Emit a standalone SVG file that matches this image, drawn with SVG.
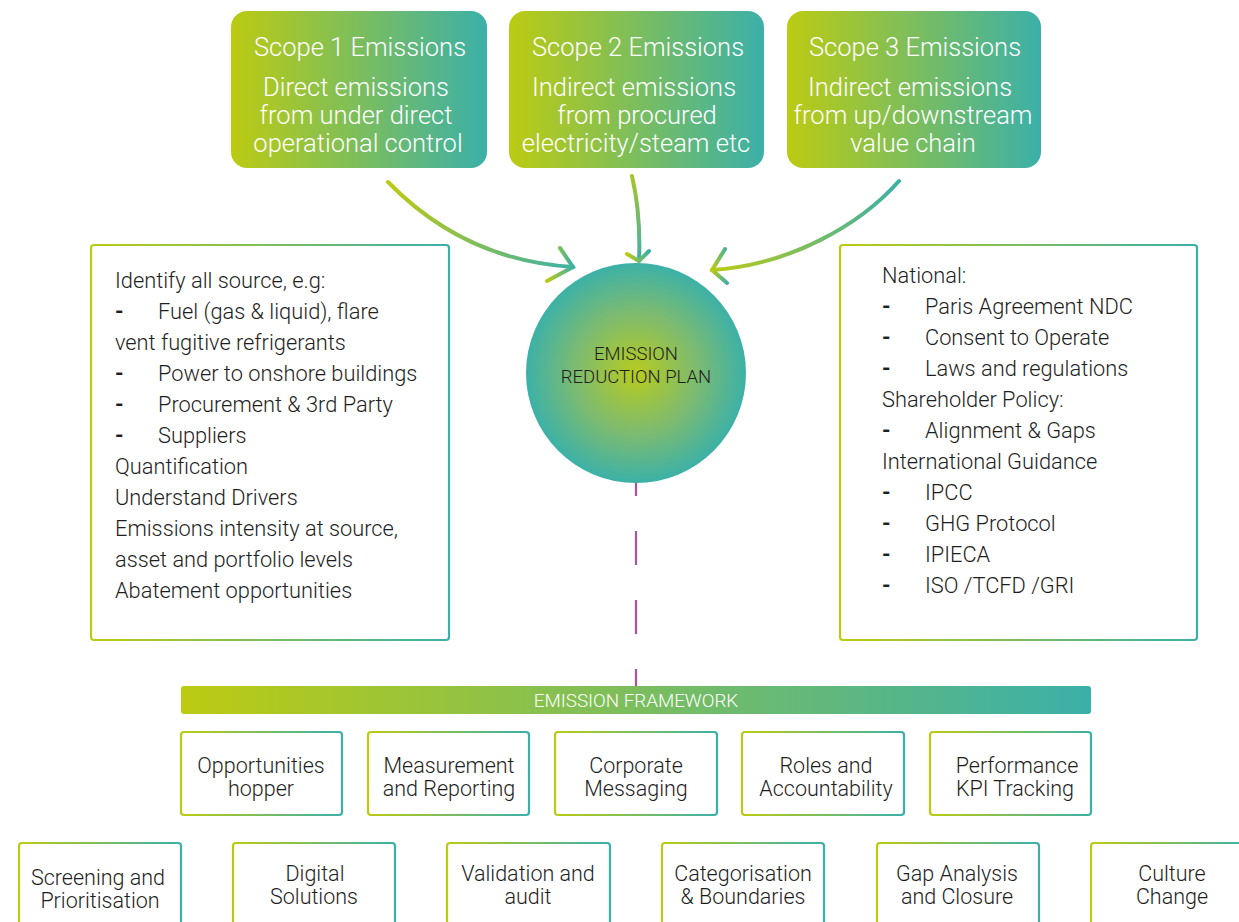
<svg xmlns="http://www.w3.org/2000/svg" width="1239" height="922" viewBox="0 0 1239 922">
  <defs>
    <linearGradient id="gH" x1="0" y1="0" x2="1" y2="0">
      <stop offset="0" stop-color="#bccb12"/>
      <stop offset="1" stop-color="#3bb0a9"/>
    </linearGradient>
    <radialGradient id="gR" cx="0.5" cy="0.5" r="0.5">
      <stop offset="0" stop-color="#b7cb1e"/>
      <stop offset="0.55" stop-color="#7dbb70"/>
      <stop offset="1" stop-color="#3cb1a7"/>
    </radialGradient>
    <linearGradient id="gA1" gradientUnits="userSpaceOnUse" x1="388" y1="0" x2="574" y2="0">
      <stop offset="0" stop-color="#bccb12"/>
      <stop offset="1" stop-color="#3bb0a9"/>
    </linearGradient>
    <linearGradient id="gA3" gradientUnits="userSpaceOnUse" x1="712" y1="0" x2="900" y2="0">
      <stop offset="0" stop-color="#bccb12"/>
      <stop offset="1" stop-color="#3bb0a9"/>
    </linearGradient>
    <linearGradient id="gA2" gradientUnits="userSpaceOnUse" x1="0" y1="176" x2="0" y2="262">
      <stop offset="0" stop-color="#a8c52a"/>
      <stop offset="1" stop-color="#3bb0a9"/>
    </linearGradient>
    <style>
      .scope { fill: url(#gH); }
      .st { font-family: Roboto, "Liberation Sans", sans-serif; font-weight: 300; fill: #ffffff; font-size: 25.5px; text-anchor: middle; }
      .box { fill: #ffffff; stroke: url(#gH); stroke-width: 2.2; }
      .tx { font-family: Roboto, "Liberation Sans", sans-serif; font-weight: 300; fill: #1e1e1e; font-size: 21.8px; }
      .bx { font-family: Roboto, "Liberation Sans", sans-serif; font-weight: 300; fill: #1e1e1e; font-size: 21.5px; text-anchor: middle; }
      .dash { font-weight: 700; }
      .arrow { fill: none; stroke-width: 4; stroke-linecap: round; stroke-linejoin: round; }
      .head { fill: none; stroke: url(#gH); stroke-width: 4; stroke-linecap: round; stroke-linejoin: miter; }
    </style>
  </defs>

  <!-- Scope boxes -->
  <g id="scope1">
    <rect class="scope" x="231" y="11" width="256" height="157" rx="16"/>
    <text class="st" x="360" y="56">Scope 1 Emissions</text>
    <text class="st" x="356" y="96">Direct emissions</text>
    <text class="st" x="356" y="124">from under direct</text>
    <text class="st" x="358" y="152">operational control</text>
  </g>
  <g id="scope2">
    <rect class="scope" x="509" y="11" width="255" height="157" rx="16"/>
    <text class="st" x="638" y="56">Scope 2 Emissions</text>
    <text class="st" x="634" y="96">Indirect emissions</text>
    <text class="st" x="637" y="124">from procured</text>
    <text class="st" x="636" y="152">electricity/steam etc</text>
  </g>
  <g id="scope3">
    <rect class="scope" x="787" y="11" width="254" height="157" rx="16"/>
    <text class="st" x="915" y="56">Scope 3 Emissions</text>
    <text class="st" x="910" y="96">Indirect emissions</text>
    <text class="st" x="913" y="124">from up/downstream</text>
    <text class="st" x="913" y="152">value chain</text>
  </g>

  <!-- Connectors -->
  <g id="connectors">
    <line x1="636" y1="462" x2="636" y2="686" stroke="#a653a9" stroke-width="2.2" stroke-dasharray="34 35"/>
    <path class="arrow" stroke="url(#gA1)" d="M388,182 C430,225 490,262 573,267"/>
    <polyline class="head" points="560,248 573,267 547,281"/>
    <path class="arrow" stroke="url(#gA2)" d="M632,176 Q641,215 639,261"/>
    <polyline class="head" points="627,254 639,261 649,251"/>
    <path class="arrow" stroke="url(#gA3)" d="M899,181 C860,225 790,265 712,270"/>
    <polyline class="head" points="725,249 712,270 727,283"/>
  </g>

  <!-- Central circle -->
  <g id="plan">
    <circle cx="636" cy="373" r="110" fill="url(#gR)"/>
    <text class="bx" x="636" y="360" style="font-size:18.5px">EMISSION</text>
    <text class="bx" x="636" y="383" style="font-size:18.5px">REDUCTION PLAN</text>
  </g>

  <!-- Left box -->
  <g id="sources">
    <rect class="box" x="91" y="245" width="358" height="395" rx="3"/>
    <text class="tx" x="115" y="288">Identify all source, e.g:</text>
    <text class="tx dash" x="115" y="319">-</text><text class="tx" x="158" y="319">Fuel (gas &amp; liquid), flare</text>
    <text class="tx" x="115" y="350">vent fugitive refrigerants</text>
    <text class="tx dash" x="115" y="381">-</text><text class="tx" x="158" y="381">Power to onshore buildings</text>
    <text class="tx dash" x="115" y="412">-</text><text class="tx" x="158" y="412">Procurement &amp; 3rd Party</text>
    <text class="tx dash" x="115" y="443">-</text><text class="tx" x="158" y="443">Suppliers</text>
    <text class="tx" x="115" y="474">Quantification</text>
    <text class="tx" x="115" y="505">Understand Drivers</text>
    <text class="tx" x="115" y="536">Emissions intensity at source,</text>
    <text class="tx" x="115" y="567">asset and portfolio levels</text>
    <text class="tx" x="115" y="598">Abatement opportunities</text>
  </g>

  <!-- Right box -->
  <g id="policy">
    <rect class="box" x="840" y="245" width="357" height="395" rx="3"/>
    <text class="tx" x="882" y="283">National:</text>
    <text class="tx dash" x="882" y="314">-</text><text class="tx" x="925" y="314">Paris Agreement NDC</text>
    <text class="tx dash" x="882" y="345">-</text><text class="tx" x="925" y="345">Consent to Operate</text>
    <text class="tx dash" x="882" y="376">-</text><text class="tx" x="925" y="376">Laws and regulations</text>
    <text class="tx" x="882" y="407">Shareholder Policy:</text>
    <text class="tx dash" x="882" y="438">-</text><text class="tx" x="925" y="438">Alignment &amp; Gaps</text>
    <text class="tx" x="882" y="469">International Guidance</text>
    <text class="tx dash" x="882" y="500">-</text><text class="tx" x="925" y="500">IPCC</text>
    <text class="tx dash" x="882" y="531">-</text><text class="tx" x="925" y="531">GHG Protocol</text>
    <text class="tx dash" x="882" y="562">-</text><text class="tx" x="925" y="562">IPIECA</text>
    <text class="tx dash" x="882" y="593">-</text><text class="tx" x="925" y="593">ISO /TCFD /GRI</text>
  </g>

  <!-- Framework bar -->
  <g id="framework">
    <rect x="181" y="686" width="910" height="28" rx="3" fill="url(#gH)"/>
    <text class="st" x="636" y="707" style="font-size:18.8px">EMISSION FRAMEWORK</text>
  </g>

  <!-- Row 1 -->
  <g id="opportunities">
    <rect class="box" x="181" y="732" width="161" height="83" rx="3"/>
    <text class="bx" x="261" y="773">Opportunities</text>
    <text class="bx" x="261" y="796">hopper</text>
  </g>
  <g id="measurement">
    <rect class="box" x="368" y="732" width="161" height="83" rx="3"/>
    <text class="bx" x="449" y="773">Measurement</text>
    <text class="bx" x="449" y="796">and Reporting</text>
  </g>
  <g id="messaging">
    <rect class="box" x="555" y="732" width="162" height="83" rx="3"/>
    <text class="bx" x="636" y="773">Corporate</text>
    <text class="bx" x="636" y="796">Messaging</text>
  </g>
  <g id="roles">
    <rect class="box" x="742" y="732" width="162" height="83" rx="3"/>
    <text class="bx" x="826" y="773">Roles and</text>
    <text class="bx" x="826" y="796">Accountability</text>
  </g>
  <g id="kpi">
    <rect class="box" x="930" y="732" width="161" height="83" rx="3"/>
    <text class="bx" x="1017" y="773">Performance</text>
    <text class="bx" x="1015" y="796">KPI Tracking</text>
  </g>

  <!-- Row 2 -->
  <g id="screening">
    <rect class="box" x="19" y="843" width="162" height="100" rx="3"/>
    <text class="bx" x="98" y="885">Screening and</text>
    <text class="bx" x="100" y="908">Prioritisation</text>
  </g>
  <g id="digital">
    <rect class="box" x="233" y="843" width="162" height="100" rx="3"/>
    <text class="bx" x="315" y="881">Digital</text>
    <text class="bx" x="314" y="904">Solutions</text>
  </g>
  <g id="validation">
    <rect class="box" x="447" y="843" width="163" height="100" rx="3"/>
    <text class="bx" x="528" y="881">Validation and</text>
    <text class="bx" x="528" y="904">audit</text>
  </g>
  <g id="categorisation">
    <rect class="box" x="662" y="843" width="162" height="100" rx="3"/>
    <text class="bx" x="743" y="881">Categorisation</text>
    <text class="bx" x="743" y="904">&amp; Boundaries</text>
  </g>
  <g id="gap">
    <rect class="box" x="877" y="843" width="162" height="100" rx="3"/>
    <text class="bx" x="957" y="881">Gap Analysis</text>
    <text class="bx" x="957" y="904">and Closure</text>
  </g>
  <g id="culture">
    <rect class="box" x="1091" y="843" width="162" height="100" rx="3"/>
    <text class="bx" x="1172" y="881">Culture</text>
    <text class="bx" x="1172" y="904">Change</text>
  </g>
</svg>
